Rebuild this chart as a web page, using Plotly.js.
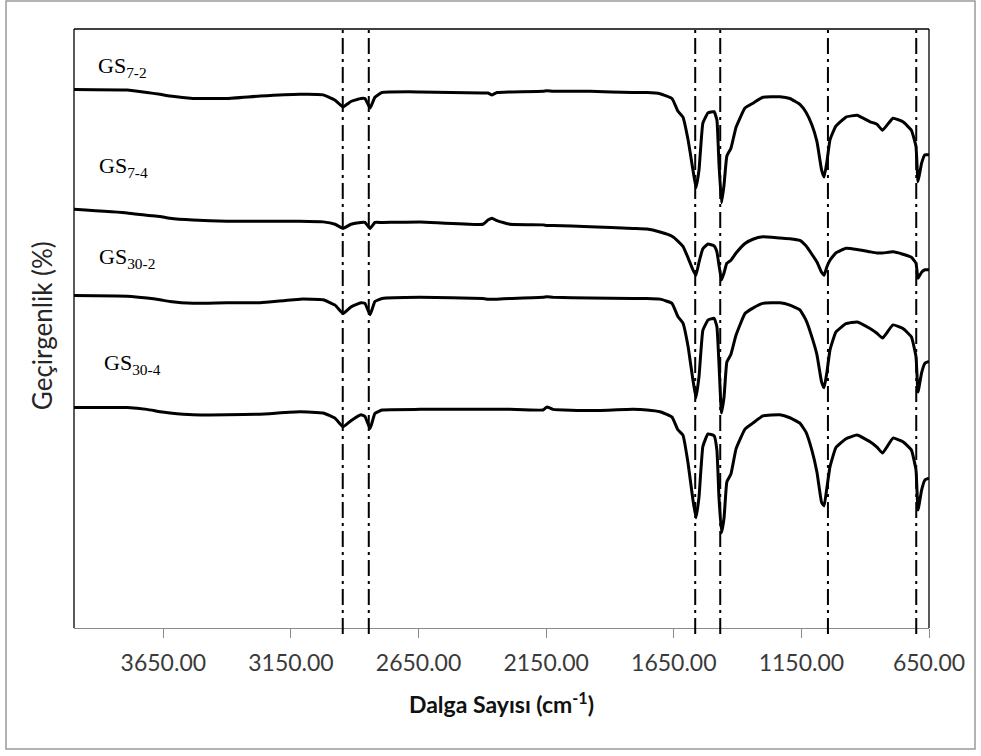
<!DOCTYPE html>
<html>
<head>
<meta charset="utf-8">
<script src="https://cdn.plot.ly/plotly-3.0.1.min.js"></script>
<style>html,body{margin:0;padding:0;background:#fff;}#chart{width:981px;height:756px;}</style>
</head>
<body>
<div id="chart"></div>
<script>
// Wavenumber (cm-1) sampling points
const wavenumber = [4000,3792,3714,3663,3624,3534,3401,3271,3115,3024,2977,2946,2915,2876,2860,2840,2821,2793,2644,2398,2378,2362,2343,2292,2162,2147,2123,1978,1810,1755,1704,1657,1634,1614,1594,1575,1563,1551,1536,1516,1492,1481,1473,1463,1453,1442,1426,1406,1371,1340,1301,1234,1195,1156,1132,1109,1089,1071,1061,1050,1038,1015,975,932,881,854,832,791,752,719,701,693,679,666,650];

// Transmittance (%, offset spectra as plotted)
const gs7_2 = [89.9,89.8,89.4,89.1,88.8,88.4,88.4,88.8,89.1,89.0,88.1,87.0,87.9,88.4,88.4,86.8,88.6,89.4,89.5,89.3,89.3,89.0,89.4,89.5,89.6,89.7,89.6,89.6,89.4,89.4,89.2,88.4,86.3,85.3,81.5,76.5,73.5,76.5,84.3,86.0,86.2,84.8,77.6,71.0,74.0,78.8,80.1,83.6,86.8,87.6,88.6,88.7,88.4,87.4,86.1,84.0,81.2,76.5,75.3,77.8,81.5,83.8,85.3,85.6,84.5,84.1,83.1,85.1,84.5,83.1,80.4,74.5,77.6,79.0,79.0];
const gs7_4 = [69.9,69.3,68.9,68.7,68.4,68.1,67.9,67.9,67.9,67.8,67.4,66.7,67.4,67.7,67.7,66.7,67.7,67.7,67.8,67.4,68.1,68.4,68.0,67.4,67.3,67.2,67.2,67.0,66.7,66.6,66.1,65.4,64.6,63.7,61.8,59.8,58.9,61.1,63.3,64.1,63.8,62.8,60.6,58.1,59.3,60.9,61.4,62.6,64.2,64.9,65.3,65.1,65.0,64.7,63.8,62.4,61.1,59.4,58.9,60.3,61.4,62.6,63.4,63.2,62.8,62.6,62.6,62.8,62.4,61.9,60.9,58.4,59.4,59.8,59.8];
const gs30_2 = [55.5,55.4,55.1,54.8,54.5,54.2,54.3,54.3,54.9,54.8,53.9,52.5,53.6,54.3,54.2,52.3,54.5,55.0,55.2,55.0,54.9,54.9,54.9,55.0,55.2,55.3,55.2,55.1,55.0,55.0,54.9,54.2,52.0,50.9,47.0,41.4,38.4,42.0,49.7,51.4,51.7,50.3,44.2,35.9,38.6,44.4,45.7,48.9,52.5,53.4,54.2,54.3,53.9,53.1,51.4,48.6,45.6,41.1,40.1,42.7,46.4,49.4,50.8,51.1,50.0,49.2,48.4,50.6,50.0,48.6,45.3,39.4,42.6,44.2,44.5];
const gs30_4 = [36.8,36.8,36.5,36.1,35.9,35.6,35.6,35.7,36.1,35.9,35.0,33.6,34.6,35.6,35.3,33.3,35.8,36.4,36.5,36.5,36.5,36.5,36.5,36.5,36.4,36.9,36.5,36.3,36.5,36.4,36.1,35.2,33.1,32.2,27.5,21.4,18.4,21.9,30.3,32.4,32.1,29.7,21.9,15.9,18.4,24.4,25.7,29.9,33.2,34.2,35.4,35.6,35.1,34.2,32.7,29.7,26.0,21.0,20.4,23.4,26.9,30.1,31.6,32.2,31.1,30.2,29.2,31.7,31.1,29.7,26.4,19.7,23.0,24.7,25.0];

const seriesNames = ['GS<sub>7-2</sub>','GS<sub>7-4</sub>','GS<sub>30-2</sub>','GS<sub>30-4</sub>'];
// Marked band positions (cm-1)
const bandLines = [2947,2845,1566,1468,1046,700];
const tickValues = [3650,3150,2650,2150,1650,1150,650];

const seriesData = [gs7_2, gs7_4, gs30_2, gs30_4];
const traces = seriesData.map((ys, i) => ({
  type: 'scatter', mode: 'lines', x: wavenumber, y: ys,
  name: seriesNames[i], showlegend: false, hoverinfo: 'skip',
  line: {color: '#000000', width: 3, shape: 'spline', smoothing: 0.35}
}));

const shapes = bandLines.map(b => ({
  type: 'line', xref: 'x', yref: 'paper', x0: b, x1: b, y0: -0.01, y1: 1,
  line: {color: '#000000', width: 2, dash: '16px,5px,3px,5px'}, layer: 'above'
}));
// plot frame (left, top, right)
shapes.push({type:'line', xref:'paper', yref:'paper', x0:0, x1:0, y0:0, y1:1, line:{color:'#000', width:1.3}});
shapes.push({type:'line', xref:'paper', yref:'paper', x0:0, x1:1, y0:1, y1:1, line:{color:'#000', width:1.3}});
shapes.push({type:'line', xref:'paper', yref:'paper', x0:1, x1:1, y0:0, y1:1, line:{color:'#000', width:1.3}});
// outer image border
shapes.push({type:'rect', xref:'paper', yref:'paper', x0:-0.0795, x1:1.0538, y0:-0.202, y1:1.0467, line:{color:'#9a9a9a', width:1.5}});

const labelPos = [[3914, 93.7],[3910, 77.0],[3910, 61.8],[3890, 44.1]];
const annotations = seriesNames.map((t, i) => ({
  x: labelPos[i][0], y: labelPos[i][1], xref: 'x', yref: 'y', text: t, showarrow: false,
  xanchor: 'left', yanchor: 'middle',
  font: {family: '"Liberation Serif", "Times New Roman", serif', size: 22, color: '#000'}
}));
annotations.push({
  xref: 'paper', yref: 'paper', x: -0.0374, y: 0.504, text: 'Geçirgenlik (%)', showarrow: false,
  textangle: -90, xanchor: 'center', yanchor: 'middle',
  font: {family: 'Lato, "Open Sans", sans-serif', size: 26, color: '#262626'}
});

const layout = {
  width: 981, height: 756,
  margin: {l: 74, r: 52, t: 29, b: 128},
  paper_bgcolor: '#ffffff', plot_bgcolor: '#ffffff',
  showlegend: false,
  xaxis: {
    range: [4000, 650], tickvals: tickValues,
    ticktext: tickValues.map(v => v.toFixed(2)),
    ticks: 'outside', ticklen: 9, tickwidth: 1, tickcolor: '#8a8a8a',
    showline: true, linecolor: '#8a8a8a', linewidth: 1.3,
    showgrid: false, zeroline: false, ticklabelstandoff: 5,
    tickfont: {family: 'Lato, "Open Sans", sans-serif', size: 23, color: '#3a3a3a'},
    title: {text: '<b>Dalga Sayısı (cm<sup>-1</sup>)</b>', standoff: 22,
      font: {family: 'Lato, "Open Sans", sans-serif', size: 23, color: '#111'}}
  },
  yaxis: {
    range: [0, 100], showticklabels: false, ticks: '', showgrid: false,
    zeroline: false, showline: false
  },
  shapes: shapes,
  annotations: annotations
};

Plotly.newPlot('chart', traces, layout, {staticPlot: true, displayModeBar: false});
</script>
</body>
</html>
